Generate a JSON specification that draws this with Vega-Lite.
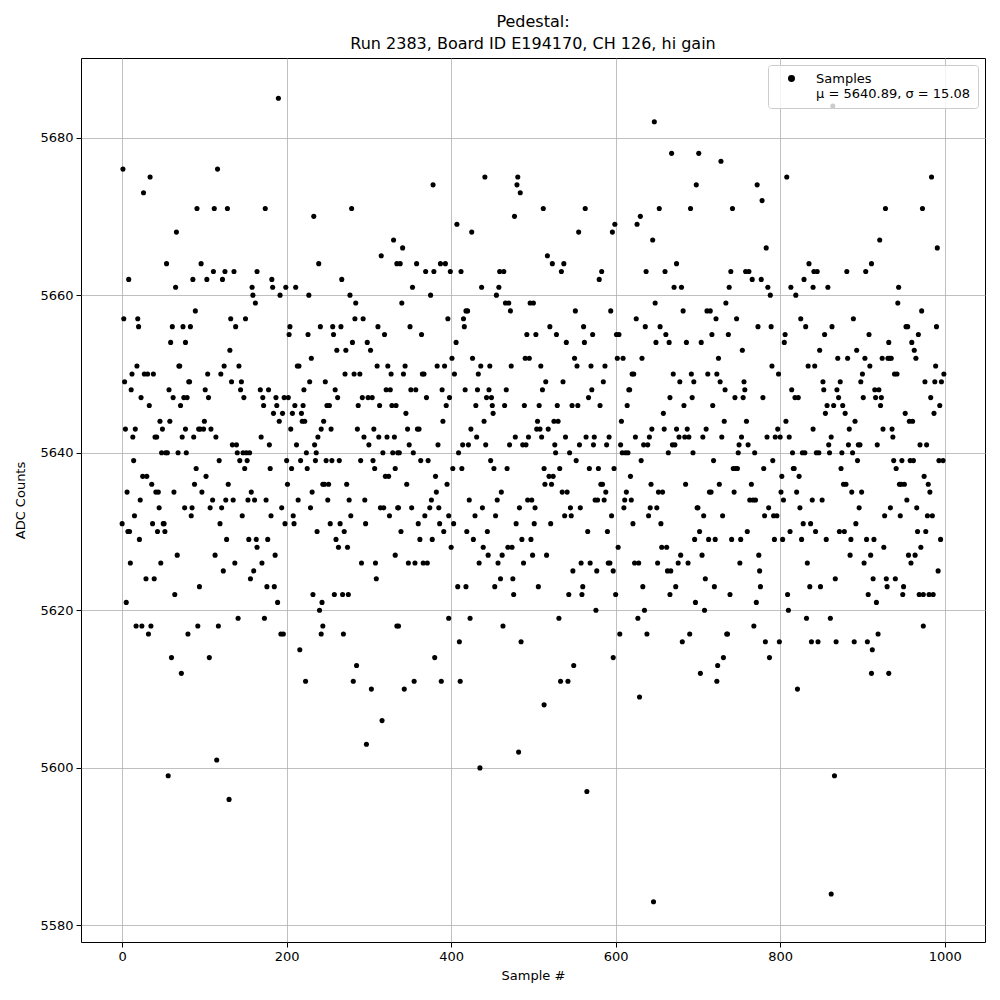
{
"$schema": "https://vega.github.io/schema/vega-lite/v6.json",
"width": 904, "height": 884,
"autosize": {"type": "none"},
"padding": {"left": 81, "top": 58, "right": 15, "bottom": 58},
"background": "white",
"title": {"text": ["Pedestal:", "Run 2383, Board ID E194170, CH 126, hi gain"], "fontSize": 16, "fontWeight": "normal", "font": "DejaVu Sans", "color": "black", "offset": 6, "lineHeight": 22, "anchor": "middle"},
"config": {
  "font": "DejaVu Sans",
  "view": {"stroke": "black", "strokeWidth": 1},
  "axis": {"domain": false, "tickColor": "black", "tickSize": 5, "labelFontSize": 13, "labelColor": "black", "labelFont": "DejaVu Sans", "titleFont": "DejaVu Sans", "titleFontSize": 13, "titleFontWeight": "normal", "titleColor": "black", "gridColor": "#b0b0b0", "gridWidth": 0.8, "labelPadding": 3}
},
"data": {"values": [
{"x":1,"y":5676},{"x":34,"y":5675},{"x":26,"y":5673},{"x":66,"y":5668},{"x":54,"y":5664},{"x":8,"y":5662},{"x":65,"y":5661},{"x":2,"y":5657},{"x":19,"y":5657},{"x":20,"y":5656},{"x":61,"y":5656},{"x":74,"y":5656},{"x":59,"y":5654},{"x":77,"y":5654},{"x":18,"y":5651},{"x":69,"y":5651},{"x":70,"y":5651},{"x":3,"y":5649},{"x":12,"y":5650},{"x":27,"y":5650},{"x":31,"y":5650},{"x":38,"y":5650},{"x":11,"y":5648},{"x":57,"y":5648},{"x":23,"y":5647},{"x":62,"y":5647},{"x":75,"y":5647},{"x":33,"y":5646},{"x":71,"y":5646},{"x":79,"y":5647},{"x":4,"y":5643},{"x":16,"y":5643},{"x":46,"y":5644},{"x":58,"y":5644},{"x":49,"y":5643},{"x":77,"y":5643},{"x":13,"y":5642},{"x":40,"y":5642},{"x":42,"y":5642},{"x":73,"y":5642},{"x":48,"y":5640},{"x":53,"y":5640},{"x":55,"y":5640},{"x":68,"y":5640},{"x":78,"y":5640},{"x":14,"y":5639},{"x":25,"y":5637},{"x":30,"y":5637},{"x":36,"y":5636},{"x":41,"y":5635},{"x":44,"y":5635},{"x":6,"y":5635},{"x":63,"y":5635},{"x":22,"y":5634},{"x":45,"y":5633},{"x":76,"y":5633},{"x":15,"y":5632},{"x":0,"y":5631},{"x":37,"y":5631},{"x":50,"y":5631},{"x":51,"y":5631},{"x":7,"y":5630},{"x":9,"y":5630},{"x":43,"y":5630},{"x":52,"y":5630},{"x":21,"y":5629},{"x":67,"y":5627},{"x":10,"y":5626},{"x":47,"y":5626},{"x":29,"y":5624},{"x":39,"y":5624},{"x":64,"y":5622},{"x":5,"y":5621},{"x":17,"y":5618},{"x":24,"y":5618},{"x":35,"y":5618},{"x":32,"y":5617},{"x":80,"y":5617},{"x":60,"y":5614},{"x":72,"y":5612},{"x":56,"y":5599},
{"x":116,"y":5676},{"x":91,"y":5671},{"x":112,"y":5671},{"x":128,"y":5671},{"x":96,"y":5664},{"x":86,"y":5662},{"x":103,"y":5662},{"x":111,"y":5663},{"x":122,"y":5662},{"x":125,"y":5663},{"x":136,"y":5663},{"x":158,"y":5661},{"x":164,"y":5663},{"x":159,"y":5660},{"x":162,"y":5659},{"x":89,"y":5658},{"x":83,"y":5656},{"x":132,"y":5657},{"x":138,"y":5656},{"x":150,"y":5657},{"x":131,"y":5653},{"x":124,"y":5651},{"x":142,"y":5651},{"x":104,"y":5650},{"x":120,"y":5650},{"x":81,"y":5649},{"x":82,"y":5649},{"x":133,"y":5649},{"x":145,"y":5649},{"x":101,"y":5648},{"x":105,"y":5647},{"x":144,"y":5648},{"x":148,"y":5647},{"x":100,"y":5644},{"x":93,"y":5643},{"x":95,"y":5643},{"x":99,"y":5643},{"x":87,"y":5642},{"x":108,"y":5643},{"x":114,"y":5642},{"x":134,"y":5641},{"x":139,"y":5641},{"x":140,"y":5640},{"x":147,"y":5640},{"x":151,"y":5640},{"x":155,"y":5640},{"x":118,"y":5639},{"x":143,"y":5639},{"x":152,"y":5639},{"x":90,"y":5638},{"x":149,"y":5638},{"x":102,"y":5637},{"x":88,"y":5636},{"x":129,"y":5636},{"x":97,"y":5635},{"x":157,"y":5635},{"x":110,"y":5634},{"x":126,"y":5634},{"x":135,"y":5634},{"x":153,"y":5634},{"x":161,"y":5634},{"x":84,"y":5632},{"x":107,"y":5633},{"x":121,"y":5633},{"x":85,"y":5633},{"x":146,"y":5632},{"x":119,"y":5631},{"x":127,"y":5629},{"x":154,"y":5629},{"x":163,"y":5629},{"x":164,"y":5628},{"x":113,"y":5627},{"x":137,"y":5626},{"x":123,"y":5625},{"x":160,"y":5625},{"x":156,"y":5624},{"x":94,"y":5623},{"x":141,"y":5619},{"x":92,"y":5618},{"x":117,"y":5618},{"x":106,"y":5614},{"x":115,"y":5601},{"x":130,"y":5596},
{"x":190,"y":5685},{"x":174,"y":5671},{"x":233,"y":5670},{"x":239,"y":5664},{"x":182,"y":5662},{"x":183,"y":5661},{"x":192,"y":5660},{"x":199,"y":5661},{"x":211,"y":5661},{"x":227,"y":5660},{"x":204,"y":5656},{"x":203,"y":5655},{"x":226,"y":5655},{"x":241,"y":5656},{"x":213,"y":5651},{"x":215,"y":5651},{"x":230,"y":5652},{"x":168,"y":5648},{"x":178,"y":5648},{"x":228,"y":5649},{"x":247,"y":5649},{"x":171,"y":5647},{"x":172,"y":5646},{"x":187,"y":5647},{"x":197,"y":5647},{"x":202,"y":5647},{"x":221,"y":5648},{"x":184,"y":5645},{"x":188,"y":5646},{"x":195,"y":5645},{"x":207,"y":5645},{"x":210,"y":5646},{"x":218,"y":5645},{"x":220,"y":5646},{"x":249,"y":5646},{"x":191,"y":5644},{"x":219,"y":5644},{"x":222,"y":5644},{"x":245,"y":5644},{"x":205,"y":5643},{"x":242,"y":5643},{"x":169,"y":5642},{"x":238,"y":5642},{"x":179,"y":5641},{"x":212,"y":5641},{"x":234,"y":5641},{"x":224,"y":5640},{"x":236,"y":5640},{"x":200,"y":5639},{"x":217,"y":5639},{"x":235,"y":5639},{"x":248,"y":5639},{"x":180,"y":5638},{"x":206,"y":5638},{"x":225,"y":5638},{"x":201,"y":5636},{"x":244,"y":5636},{"x":246,"y":5636},{"x":231,"y":5635},{"x":175,"y":5634},{"x":214,"y":5634},{"x":250,"y":5634},{"x":194,"y":5633},{"x":229,"y":5633},{"x":181,"y":5632},{"x":208,"y":5632},{"x":198,"y":5631},{"x":209,"y":5631},{"x":237,"y":5630},{"x":177,"y":5629},{"x":186,"y":5627},{"x":170,"y":5626},{"x":176,"y":5623},{"x":185,"y":5623},{"x":189,"y":5621},{"x":232,"y":5622},{"x":243,"y":5621},{"x":240,"y":5620},{"x":173,"y":5619},{"x":244,"y":5618},{"x":242,"y":5617},{"x":193,"y":5617},{"x":196,"y":5617},{"x":216,"y":5615},{"x":223,"y":5611},
{"x":279,"y":5671},{"x":330,"y":5667},{"x":315,"y":5665},{"x":334,"y":5664},{"x":267,"y":5662},{"x":277,"y":5660},{"x":284,"y":5659},{"x":256,"y":5656},{"x":266,"y":5656},{"x":257,"y":5655},{"x":283,"y":5657},{"x":293,"y":5657},{"x":311,"y":5656},{"x":319,"y":5655},{"x":261,"y":5653},{"x":272,"y":5653},{"x":280,"y":5654},{"x":298,"y":5654},{"x":302,"y":5653},{"x":310,"y":5651},{"x":323,"y":5651},{"x":271,"y":5650},{"x":282,"y":5650},{"x":289,"y":5650},{"x":327,"y":5650},{"x":259,"y":5648},{"x":262,"y":5647},{"x":252,"y":5646},{"x":287,"y":5646},{"x":292,"y":5647},{"x":299,"y":5647},{"x":304,"y":5647},{"x":313,"y":5646},{"x":321,"y":5648},{"x":326,"y":5648},{"x":328,"y":5646},{"x":333,"y":5646},{"x":254,"y":5643},{"x":286,"y":5643},{"x":294,"y":5642},{"x":300,"y":5641},{"x":306,"y":5643},{"x":312,"y":5642},{"x":322,"y":5642},{"x":331,"y":5642},{"x":317,"y":5640},{"x":329,"y":5640},{"x":335,"y":5640},{"x":255,"y":5639},{"x":264,"y":5639},{"x":290,"y":5639},{"x":305,"y":5639},{"x":307,"y":5638},{"x":320,"y":5637},{"x":324,"y":5637},{"x":332,"y":5638},{"x":251,"y":5636},{"x":273,"y":5636},{"x":276,"y":5634},{"x":295,"y":5634},{"x":314,"y":5633},{"x":318,"y":5633},{"x":336,"y":5633},{"x":278,"y":5632},{"x":325,"y":5632},{"x":253,"y":5631},{"x":265,"y":5631},{"x":296,"y":5631},{"x":270,"y":5630},{"x":260,"y":5629},{"x":263,"y":5628},{"x":274,"y":5628},{"x":332,"y":5627},{"x":291,"y":5626},{"x":308,"y":5626},{"x":309,"y":5624},{"x":258,"y":5622},{"x":268,"y":5622},{"x":275,"y":5622},{"x":334,"y":5618},{"x":269,"y":5617},{"x":285,"y":5613},{"x":281,"y":5611},{"x":303,"y":5610},{"x":316,"y":5606},{"x":297,"y":5603},
{"x":378,"y":5674},{"x":407,"y":5669},{"x":341,"y":5666},{"x":338,"y":5664},{"x":358,"y":5664},{"x":369,"y":5663},{"x":379,"y":5663},{"x":387,"y":5664},{"x":393,"y":5664},{"x":399,"y":5663},{"x":412,"y":5663},{"x":353,"y":5661},{"x":375,"y":5660},{"x":340,"y":5659},{"x":396,"y":5657},{"x":418,"y":5658},{"x":415,"y":5657},{"x":416,"y":5656},{"x":350,"y":5656},{"x":364,"y":5655},{"x":406,"y":5654},{"x":401,"y":5652},{"x":344,"y":5651},{"x":342,"y":5650},{"x":383,"y":5651},{"x":392,"y":5651},{"x":365,"y":5650},{"x":367,"y":5650},{"x":404,"y":5650},{"x":351,"y":5648},{"x":357,"y":5648},{"x":389,"y":5648},{"x":417,"y":5648},{"x":370,"y":5647},{"x":398,"y":5647},{"x":394,"y":5646},{"x":345,"y":5645},{"x":390,"y":5644},{"x":347,"y":5643},{"x":359,"y":5643},{"x":361,"y":5643},{"x":384,"y":5641},{"x":349,"y":5641},{"x":414,"y":5641},{"x":337,"y":5640},{"x":354,"y":5640},{"x":363,"y":5639},{"x":372,"y":5639},{"x":409,"y":5640},{"x":402,"y":5638},{"x":413,"y":5638},{"x":381,"y":5637},{"x":346,"y":5636},{"x":395,"y":5636},{"x":382,"y":5635},{"x":376,"y":5634},{"x":335,"y":5633},{"x":352,"y":5633},{"x":374,"y":5633},{"x":385,"y":5633},{"x":368,"y":5632},{"x":397,"y":5632},{"x":339,"y":5630},{"x":360,"y":5631},{"x":386,"y":5631},{"x":403,"y":5631},{"x":391,"y":5630},{"x":362,"y":5629},{"x":377,"y":5629},{"x":400,"y":5628},{"x":419,"y":5630},{"x":348,"y":5626},{"x":356,"y":5626},{"x":366,"y":5626},{"x":371,"y":5626},{"x":408,"y":5623},{"x":418,"y":5623},{"x":397,"y":5619},{"x":336,"y":5618},{"x":410,"y":5616},{"x":380,"y":5614},{"x":355,"y":5611},{"x":388,"y":5611},{"x":411,"y":5611},{"x":343,"y":5610},
{"x":441,"y":5675},{"x":481,"y":5675},{"x":480,"y":5674},{"x":484,"y":5673},{"x":425,"y":5668},{"x":477,"y":5670},{"x":459,"y":5663},{"x":464,"y":5663},{"x":437,"y":5661},{"x":458,"y":5661},{"x":455,"y":5660},{"x":466,"y":5659},{"x":470,"y":5659},{"x":496,"y":5659},{"x":500,"y":5659},{"x":472,"y":5658},{"x":420,"y":5658},{"x":492,"y":5655},{"x":503,"y":5655},{"x":490,"y":5652},{"x":495,"y":5652},{"x":426,"y":5652},{"x":436,"y":5651},{"x":433,"y":5650},{"x":447,"y":5651},{"x":473,"y":5651},{"x":432,"y":5648},{"x":446,"y":5648},{"x":467,"y":5648},{"x":443,"y":5647},{"x":449,"y":5647},{"x":430,"y":5646},{"x":450,"y":5646},{"x":465,"y":5646},{"x":489,"y":5646},{"x":451,"y":5645},{"x":440,"y":5644},{"x":424,"y":5643},{"x":504,"y":5643},{"x":431,"y":5642},{"x":478,"y":5642},{"x":494,"y":5642},{"x":421,"y":5641},{"x":442,"y":5641},{"x":471,"y":5641},{"x":487,"y":5641},{"x":491,"y":5641},{"x":505,"y":5644},{"x":448,"y":5639},{"x":452,"y":5638},{"x":468,"y":5638},{"x":461,"y":5635},{"x":422,"y":5634},{"x":456,"y":5634},{"x":493,"y":5634},{"x":498,"y":5634},{"x":438,"y":5633},{"x":483,"y":5633},{"x":502,"y":5633},{"x":429,"y":5632},{"x":454,"y":5632},{"x":444,"y":5630},{"x":479,"y":5631},{"x":501,"y":5631},{"x":427,"y":5629},{"x":486,"y":5629},{"x":497,"y":5629},{"x":439,"y":5628},{"x":469,"y":5628},{"x":474,"y":5628},{"x":445,"y":5627},{"x":462,"y":5627},{"x":499,"y":5627},{"x":434,"y":5626},{"x":457,"y":5626},{"x":488,"y":5626},{"x":460,"y":5624},{"x":475,"y":5624},{"x":453,"y":5623},{"x":476,"y":5622},{"x":506,"y":5623},{"x":423,"y":5619},{"x":463,"y":5618},{"x":485,"y":5616},{"x":482,"y":5602},{"x":435,"y":5600},
{"x":512,"y":5671},{"x":563,"y":5671},{"x":555,"y":5668},{"x":517,"y":5665},{"x":523,"y":5664},{"x":537,"y":5664},{"x":534,"y":5663},{"x":583,"y":5663},{"x":580,"y":5662},{"x":551,"y":5658},{"x":520,"y":5656},{"x":561,"y":5656},{"x":528,"y":5655},{"x":572,"y":5655},{"x":540,"y":5654},{"x":562,"y":5654},{"x":550,"y":5652},{"x":509,"y":5651},{"x":553,"y":5651},{"x":570,"y":5651},{"x":587,"y":5651},{"x":515,"y":5649},{"x":536,"y":5649},{"x":585,"y":5649},{"x":511,"y":5648},{"x":571,"y":5648},{"x":567,"y":5647},{"x":507,"y":5646},{"x":529,"y":5646},{"x":547,"y":5646},{"x":554,"y":5646},{"x":581,"y":5646},{"x":525,"y":5644},{"x":530,"y":5644},{"x":508,"y":5643},{"x":518,"y":5643},{"x":510,"y":5642},{"x":526,"y":5641},{"x":539,"y":5642},{"x":564,"y":5642},{"x":574,"y":5642},{"x":556,"y":5641},{"x":573,"y":5641},{"x":589,"y":5641},{"x":527,"y":5640},{"x":544,"y":5640},{"x":552,"y":5639},{"x":513,"y":5638},{"x":532,"y":5638},{"x":568,"y":5638},{"x":579,"y":5638},{"x":519,"y":5637},{"x":524,"y":5637},{"x":522,"y":5636},{"x":514,"y":5636},{"x":582,"y":5636},{"x":584,"y":5636},{"x":535,"y":5635},{"x":541,"y":5635},{"x":588,"y":5635},{"x":575,"y":5634},{"x":578,"y":5634},{"x":586,"y":5634},{"x":545,"y":5633},{"x":557,"y":5633},{"x":538,"y":5632},{"x":546,"y":5632},{"x":566,"y":5630},{"x":590,"y":5630},{"x":521,"y":5631},{"x":516,"y":5627},{"x":558,"y":5626},{"x":569,"y":5626},{"x":591,"y":5626},{"x":548,"y":5625},{"x":577,"y":5625},{"x":543,"y":5622},{"x":559,"y":5622},{"x":560,"y":5623},{"x":576,"y":5620},{"x":531,"y":5619},{"x":549,"y":5613},{"x":533,"y":5611},{"x":542,"y":5611},{"x":565,"y":5597},{"x":513,"y":5608},
{"x":647,"y":5682},{"x":668,"y":5678},{"x":653,"y":5671},{"x":596,"y":5668},{"x":599,"y":5669},{"x":626,"y":5669},{"x":630,"y":5670},{"x":645,"y":5667},{"x":637,"y":5663},{"x":660,"y":5663},{"x":674,"y":5664},{"x":671,"y":5661},{"x":648,"y":5659},{"x":594,"y":5658},{"x":625,"y":5657},{"x":636,"y":5656},{"x":649,"y":5654},{"x":654,"y":5656},{"x":661,"y":5655},{"x":665,"y":5654},{"x":601,"y":5655},{"x":604,"y":5655},{"x":602,"y":5652},{"x":609,"y":5652},{"x":632,"y":5652},{"x":620,"y":5650},{"x":622,"y":5650},{"x":670,"y":5650},{"x":616,"y":5648},{"x":617,"y":5648},{"x":666,"y":5647},{"x":614,"y":5646},{"x":658,"y":5645},{"x":607,"y":5644},{"x":659,"y":5643},{"x":644,"y":5643},{"x":592,"y":5642},{"x":624,"y":5642},{"x":641,"y":5642},{"x":606,"y":5641},{"x":634,"y":5641},{"x":639,"y":5641},{"x":669,"y":5641},{"x":672,"y":5641},{"x":608,"y":5640},{"x":612,"y":5640},{"x":615,"y":5640},{"x":664,"y":5640},{"x":631,"y":5639},{"x":598,"y":5638},{"x":618,"y":5637},{"x":643,"y":5636},{"x":613,"y":5635},{"x":652,"y":5635},{"x":657,"y":5635},{"x":611,"y":5634},{"x":619,"y":5634},{"x":610,"y":5633},{"x":642,"y":5633},{"x":650,"y":5633},{"x":595,"y":5632},{"x":640,"y":5632},{"x":621,"y":5631},{"x":655,"y":5631},{"x":603,"y":5628},{"x":656,"y":5628},{"x":662,"y":5628},{"x":593,"y":5626},{"x":623,"y":5626},{"x":628,"y":5626},{"x":651,"y":5626},{"x":597,"y":5625},{"x":663,"y":5625},{"x":667,"y":5625},{"x":600,"y":5622},{"x":633,"y":5623},{"x":666,"y":5622},{"x":673,"y":5623},{"x":635,"y":5620},{"x":627,"y":5619},{"x":605,"y":5617},{"x":638,"y":5617},{"x":597,"y":5614},{"x":629,"y":5609},{"x":646,"y":5583},
{"x":701,"y":5678},{"x":728,"y":5677},{"x":698,"y":5674},{"x":691,"y":5671},{"x":742,"y":5671},{"x":740,"y":5663},{"x":758,"y":5663},{"x":680,"y":5661},{"x":738,"y":5661},{"x":734,"y":5659},{"x":682,"y":5658},{"x":711,"y":5658},{"x":715,"y":5658},{"x":722,"y":5657},{"x":747,"y":5657},{"x":686,"y":5654},{"x":704,"y":5654},{"x":717,"y":5655},{"x":737,"y":5655},{"x":754,"y":5653},{"x":725,"y":5652},{"x":692,"y":5650},{"x":712,"y":5650},{"x":723,"y":5650},{"x":678,"y":5649},{"x":695,"y":5649},{"x":727,"y":5649},{"x":756,"y":5649},{"x":733,"y":5648},{"x":757,"y":5648},{"x":693,"y":5647},{"x":745,"y":5647},{"x":755,"y":5647},{"x":683,"y":5646},{"x":718,"y":5646},{"x":732,"y":5644},{"x":759,"y":5644},{"x":710,"y":5643},{"x":674,"y":5643},{"x":684,"y":5642},{"x":706,"y":5642},{"x":729,"y":5642},{"x":753,"y":5642},{"x":687,"y":5643},{"x":677,"y":5642},{"x":689,"y":5642},{"x":750,"y":5641},{"x":749,"y":5640},{"x":694,"y":5640},{"x":719,"y":5639},{"x":743,"y":5638},{"x":746,"y":5638},{"x":748,"y":5638},{"x":685,"y":5636},{"x":726,"y":5636},{"x":714,"y":5635},{"x":716,"y":5635},{"x":744,"y":5635},{"x":699,"y":5633},{"x":700,"y":5633},{"x":707,"y":5632},{"x":730,"y":5632},{"x":702,"y":5630},{"x":696,"y":5629},{"x":713,"y":5629},{"x":721,"y":5629},{"x":741,"y":5629},{"x":752,"y":5629},{"x":679,"y":5627},{"x":705,"y":5627},{"x":676,"y":5626},{"x":688,"y":5626},{"x":751,"y":5626},{"x":709,"y":5624},{"x":720,"y":5623},{"x":739,"y":5622},{"x":697,"y":5621},{"x":708,"y":5620},{"x":690,"y":5617},{"x":735,"y":5617},{"x":736,"y":5617},{"x":681,"y":5616},{"x":731,"y":5614},{"x":724,"y":5613},{"x":703,"y":5612},{"x":723,"y":5611},
{"x":808,"y":5675},{"x":772,"y":5674},{"x":778,"y":5672},{"x":783,"y":5666},{"x":762,"y":5663},{"x":766,"y":5662},{"x":777,"y":5662},{"x":835,"y":5664},{"x":829,"y":5662},{"x":841,"y":5663},{"x":785,"y":5661},{"x":788,"y":5660},{"x":813,"y":5661},{"x":819,"y":5660},{"x":840,"y":5661},{"x":825,"y":5657},{"x":831,"y":5656},{"x":773,"y":5656},{"x":789,"y":5656},{"x":806,"y":5655},{"x":805,"y":5654},{"x":790,"y":5651},{"x":834,"y":5651},{"x":842,"y":5651},{"x":798,"y":5650},{"x":814,"y":5648},{"x":818,"y":5647},{"x":822,"y":5647},{"x":779,"y":5647},{"x":807,"y":5644},{"x":840,"y":5643},{"x":797,"y":5643},{"x":784,"y":5642},{"x":794,"y":5642},{"x":800,"y":5642},{"x":811,"y":5642},{"x":761,"y":5641},{"x":769,"y":5640},{"x":815,"y":5640},{"x":827,"y":5640},{"x":830,"y":5640},{"x":791,"y":5639},{"x":780,"y":5638},{"x":816,"y":5638},{"x":817,"y":5638},{"x":802,"y":5637},{"x":823,"y":5637},{"x":765,"y":5636},{"x":763,"y":5634},{"x":767,"y":5634},{"x":770,"y":5634},{"x":804,"y":5634},{"x":839,"y":5634},{"x":801,"y":5635},{"x":820,"y":5635},{"x":786,"y":5633},{"x":781,"y":5632},{"x":792,"y":5632},{"x":796,"y":5632},{"x":824,"y":5633},{"x":760,"y":5630},{"x":812,"y":5630},{"x":828,"y":5631},{"x":837,"y":5631},{"x":843,"y":5630},{"x":793,"y":5629},{"x":803,"y":5629},{"x":826,"y":5629},{"x":774,"y":5627},{"x":833,"y":5626},{"x":775,"y":5625},{"x":776,"y":5623},{"x":836,"y":5623},{"x":771,"y":5621},{"x":809,"y":5622},{"x":810,"y":5620},{"x":832,"y":5619},{"x":768,"y":5618},{"x":782,"y":5616},{"x":799,"y":5616},{"x":838,"y":5616},{"x":787,"y":5614},{"x":821,"y":5610},
{"x":864,"y":5684},{"x":928,"y":5671},{"x":921,"y":5667},{"x":911,"y":5664},{"x":904,"y":5663},{"x":881,"y":5663},{"x":845,"y":5663},{"x":858,"y":5661},{"x":889,"y":5657},{"x":863,"y":5656},{"x":854,"y":5655},{"x":908,"y":5655},{"x":848,"y":5653},{"x":893,"y":5653},{"x":870,"y":5652},{"x":882,"y":5652},{"x":903,"y":5652},{"x":924,"y":5652},{"x":909,"y":5651},{"x":900,"y":5650},{"x":898,"y":5649},{"x":852,"y":5649},{"x":873,"y":5649},{"x":853,"y":5648},{"x":869,"y":5648},{"x":871,"y":5647},{"x":901,"y":5647},{"x":915,"y":5648},{"x":920,"y":5648},{"x":916,"y":5647},{"x":923,"y":5647},{"x":857,"y":5646},{"x":865,"y":5646},{"x":876,"y":5646},{"x":922,"y":5646},{"x":855,"y":5645},{"x":879,"y":5645},{"x":891,"y":5644},{"x":884,"y":5643},{"x":862,"y":5642},{"x":883,"y":5641},{"x":895,"y":5641},{"x":897,"y":5641},{"x":918,"y":5641},{"x":925,"y":5643},{"x":859,"y":5641},{"x":888,"y":5640},{"x":860,"y":5640},{"x":844,"y":5640},{"x":847,"y":5640},{"x":875,"y":5640},{"x":874,"y":5638},{"x":894,"y":5639},{"x":851,"y":5634},{"x":877,"y":5636},{"x":880,"y":5636},{"x":887,"y":5635},{"x":899,"y":5635},{"x":896,"y":5633},{"x":927,"y":5632},{"x":856,"y":5629},{"x":872,"y":5630},{"x":878,"y":5630},{"x":892,"y":5631},{"x":886,"y":5629},{"x":905,"y":5629},{"x":914,"y":5629},{"x":926,"y":5628},{"x":885,"y":5627},{"x":910,"y":5627},{"x":902,"y":5626},{"x":867,"y":5624},{"x":913,"y":5624},{"x":929,"y":5624},{"x":849,"y":5623},{"x":930,"y":5623},{"x":907,"y":5622},{"x":917,"y":5621},{"x":861,"y":5619},{"x":846,"y":5616},{"x":868,"y":5616},{"x":890,"y":5616},{"x":906,"y":5616},{"x":919,"y":5617},{"x":912,"y":5615},{"x":911,"y":5612},{"x":866,"y":5599},{"x":862,"y":5584},
{"x":984,"y":5675},{"x":973,"y":5671},{"x":991,"y":5666},{"x":944,"y":5661},{"x":943,"y":5659},{"x":972,"y":5658},{"x":953,"y":5656},{"x":955,"y":5656},{"x":990,"y":5656},{"x":968,"y":5655},{"x":932,"y":5654},{"x":960,"y":5654},{"x":963,"y":5653},{"x":931,"y":5652},{"x":933,"y":5652},{"x":935,"y":5652},{"x":965,"y":5652},{"x":939,"y":5650},{"x":942,"y":5650},{"x":989,"y":5651},{"x":999,"y":5650},{"x":976,"y":5649},{"x":988,"y":5649},{"x":996,"y":5649},{"x":983,"y":5647},{"x":994,"y":5646},{"x":987,"y":5645},{"x":952,"y":5645},{"x":957,"y":5644},{"x":961,"y":5644},{"x":936,"y":5643},{"x":937,"y":5642},{"x":970,"y":5641},{"x":978,"y":5641},{"x":938,"y":5639},{"x":948,"y":5639},{"x":958,"y":5639},{"x":941,"y":5638},{"x":962,"y":5639},{"x":945,"y":5636},{"x":947,"y":5636},{"x":951,"y":5636},{"x":993,"y":5639},{"x":998,"y":5639},{"x":975,"y":5637},{"x":980,"y":5636},{"x":954,"y":5634},{"x":982,"y":5635},{"x":966,"y":5633},{"x":934,"y":5633},{"x":946,"y":5632},{"x":979,"y":5632},{"x":985,"y":5632},{"x":995,"y":5629},{"x":967,"y":5630},{"x":977,"y":5630},{"x":971,"y":5628},{"x":956,"y":5627},{"x":964,"y":5627},{"x":959,"y":5626},{"x":992,"y":5625},{"x":940,"y":5624},{"x":950,"y":5623},{"x":949,"y":5622},{"x":969,"y":5622},{"x":974,"y":5622},{"x":981,"y":5622},{"x":986,"y":5622},{"x":974,"y":5618},{"x":932,"y":5612}
]},
"mark": {"type": "point", "filled": true, "size": 26, "opacity": 1, "shape": "circle"},
"encoding": {
  "x": {"field": "x", "type": "quantitative", "scale": {"domain": [-50, 1049], "nice": false, "zero": false}, "axis": {"values": [0, 200, 400, 600, 800, 1000], "format": "d", "title": "Sample #", "titlePadding": 6}},
  "y": {"field": "y", "type": "quantitative", "scale": {"domain": [5577.9, 5690.1], "nice": false, "zero": false}, "axis": {"values": [5580, 5600, 5620, 5640, 5660, 5680], "format": "d", "title": "ADC Counts", "titlePadding": 12}},
  "color": {"datum": "Samples", "type": "nominal", "scale": {"range": ["black"]}, "legend": {"title": null, "orient": "top-right", "offset": 7, "labelExpr": "['Samples', 'μ = 5640.89, σ = 15.08']", "labelFontSize": 13, "labelFont": "DejaVu Sans", "labelColor": "black", "labelLimit": 400, "labelOffset": 18, "symbolOffset": 10, "symbolType": "circle", "symbolSize": 30, "symbolFillColor": "black", "symbolStrokeColor": "black", "fillColor": "rgba(255,255,255,0.8)", "strokeColor": "#cccccc", "cornerRadius": 3, "padding": 7}}
}
}
